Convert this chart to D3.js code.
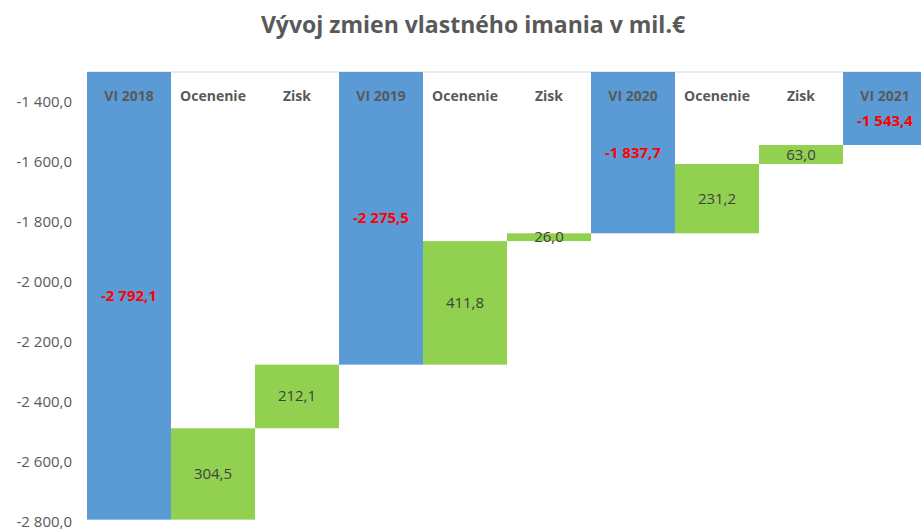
<!DOCTYPE html>
<html>
<head>
<meta charset="utf-8">
<script src="https://cdn.jsdelivr.net/npm/d3@7"></script>
<style>
  body { margin: 0; background: #fff; }
  text { font-family: "Open Sans", "Liberation Sans", sans-serif; }
</style>
</head>
<body>
<div id="container"></div>
<script>
/* DATA */
const categories = ["VI 2018", "Ocenenie", "Zisk", "VI 2019", "Ocenenie ", "Zisk ", "VI 2020", "Ocenenie  ", "Zisk  ", "VI 2021"];
const isTotal = [true, false, false, true, false, false, true, false, false, true];
const values = [-2792.1, 304.5, 212.1, -2275.5, 411.8, 26.0, -1837.7, 231.2, 63.0, -1543.4];
const yTicks = [-1400, -1600, -1800, -2000, -2200, -2400, -2600, -2800];

/* CONSTANTS */
const width = 921, height = 530;
const margin = { top: 72, left: 87 };
const plotBottom = 522;
const blue = "#5B9BD5", green = "#92D050", grey = "#595959";

const sk = d3.formatLocale({ decimal: ",", thousands: "\u00a0", grouping: [3], minus: "-" });
const fmt = sk.format(",.1f");

// build floating bars: totals hang from 0, changes stack on previous level
let level = 0;
const bars = categories.map((c, i) => {
  let y0, y1;
  if (isTotal[i]) { y0 = 0; y1 = values[i]; level = values[i]; }
  else { y0 = level; y1 = level + values[i]; level = y1; }
  return { cat: c, total: isTotal[i], value: values[i], y0, y1 };
});

// 1. scales (plot runs past the right edge, as in the cropped source)
const xScale = d3.scaleBand()
  .domain(categories)
  .range([margin.left, margin.left + 84 * categories.length])
  .padding(0);

const yScale = d3.scaleLinear()
  .domain([-2800, -1300])
  .range([plotBottom, margin.top]);

// 2. svg
const svg = d3.select("#container")
  .append("svg")
  .attr("width", width)
  .attr("height", height);

svg.append("defs").append("clipPath").attr("id", "plot")
  .append("rect")
  .attr("x", margin.left).attr("y", margin.top)
  .attr("width", width - margin.left).attr("height", plotBottom - margin.top);

// title
svg.append("text")
  .attr("x", 473).attr("y", 33)
  .attr("text-anchor", "middle")
  .attr("font-size", 23).attr("font-weight", "bold")
  .attr("fill", grey)
  .text("Vývoj zmien vlastného imania v mil.€");

// top gridline
svg.append("line")
  .attr("x1", margin.left).attr("x2", width)
  .attr("y1", yScale(-1300)).attr("y2", yScale(-1300))
  .attr("stroke", "#d9d9d9");

// 3. y axis
const yAxis = d3.axisLeft(yScale).tickValues(yTicks).tickFormat(fmt).tickSize(0).tickPadding(0);
const gy = svg.append("g")
  .attr("transform", `translate(72,0)`)
  .call(yAxis);
gy.select(".domain").remove();
gy.selectAll("text")
  .attr("font-size", 15)
  .attr("fill", grey)
  .attr("font-family", "'Open Sans', 'Liberation Sans', sans-serif");

// 4. bars
svg.append("g").attr("clip-path", "url(#plot)")
  .selectAll("rect")
  .data(bars)
  .join("rect")
  .attr("x", d => xScale(d.cat))
  .attr("width", xScale.bandwidth())
  .attr("y", d => yScale(Math.max(d.y0, d.y1)))
  .attr("height", d => yScale(Math.min(d.y0, d.y1)) - yScale(Math.max(d.y0, d.y1)))
  .attr("fill", d => d.total ? blue : green);

// 5. category labels
svg.selectAll(".cat")
  .data(bars)
  .join("text")
  .attr("class", "cat")
  .attr("x", d => xScale(d.cat) + xScale.bandwidth() / 2)
  .attr("y", 101)
  .attr("text-anchor", "middle")
  .attr("font-size", 14).attr("font-weight", "bold")
  .attr("fill", grey)
  .text(d => d.cat.trim());

// 6. value labels
svg.selectAll(".val")
  .data(bars)
  .join("text")
  .attr("class", "val")
  .attr("x", d => xScale(d.cat) + xScale.bandwidth() / 2)
  .attr("y", d => {
    const top = Math.min(yScale(Math.max(d.y0, d.y1)), plotBottom);
    const visTop = Math.max(top, yScale(-1300));
    const mid = (visTop + yScale(Math.min(d.y0, d.y1))) / 2;
    return (d.total ? Math.max(mid, 121) : mid) + 5;
  })
  .attr("text-anchor", "middle")
  .attr("font-size", 15)
  .attr("font-weight", d => d.total ? "bold" : "normal")
  .attr("fill", d => d.total ? "#FF0000" : "#404040")
  .text(d => fmt(d.value));
</script>
</body>
</html>
